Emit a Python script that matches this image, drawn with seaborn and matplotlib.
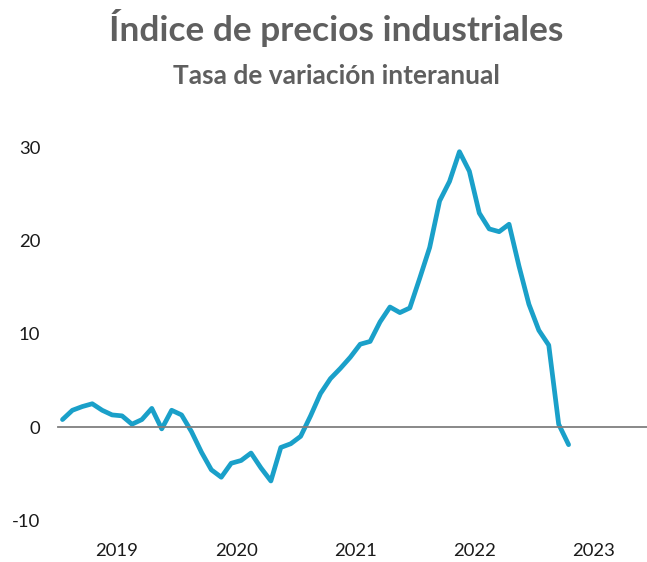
import matplotlib
matplotlib.use('Agg')
import matplotlib.pyplot as plt
import numpy as np
import pandas as pd
import seaborn as sns

# Monthly year-on-year change of industrial prices, Jan 2019 - Apr 2023
years = ['2019', '2020', '2021', '2022', '2023']
values = [
    0.8, 1.8, 2.2, 2.5, 1.8, 1.3, 1.2, 0.3, 0.8, 2.0, -0.2, 1.8,        # 2019
    1.3, -0.5, -2.7, -4.6, -5.4, -3.9, -3.6, -2.8, -4.4, -5.8, -2.2, -1.8,  # 2020
    -1.0, 1.2, 3.6, 5.2, 6.3, 7.5, 8.9, 9.2, 11.3, 12.9, 12.3, 12.8,   # 2021
    16.0, 19.3, 24.3, 26.4, 29.6, 27.5, 23.0, 21.3, 21.0, 21.8, 17.3, 13.2,  # 2022
    10.4, 8.8, 0.3, -1.9,                                               # 2023
]
yticks = [-10, 0, 10, 20, 30]

df = pd.DataFrame({'mes': np.arange(len(values)), 'tasa': values})

sns.set_style('white')
plt.rcParams['font.family'] = ['Lato', 'DejaVu Sans']

fig = plt.figure(figsize=(6.47, 5.62), dpi=100)
ax = fig.add_axes([0.0889, 0.0747, 0.9111, 0.662])

sns.lineplot(data=df, x='mes', y='tasa', ax=ax, color='#1aa0c9', linewidth=3.4,
             solid_capstyle='round', solid_joinstyle='round', clip_on=False)

ax.set_xlim(-0.5, 58.9)
ax.set_ylim(-10, 30)
ax.set_yticks(yticks)
ax.set_yticklabels([str(t) for t in yticks], fontsize=13.3, color='#1a1a1a')
ax.tick_params(axis='y', length=0, pad=12.5)

# zero line with year separators
for s in ['top', 'right', 'left']:
    ax.spines[s].set_visible(False)
ax.spines['bottom'].set_position(('data', 0))
ax.spines['bottom'].set_color('#7f7f7f')
ax.spines['bottom'].set_linewidth(1.3)
ax.set_xticks(np.arange(len(years)) * 12 - 0.5)
ax.set_xticklabels([])
ax.tick_params(axis='x', direction='out', length=6, width=1.3, color='#7f7f7f')

for k, yr in enumerate(years):
    ax.text(k * 12 + 5.5, -0.083, yr, transform=ax.get_xaxis_transform(),
            ha='center', va='center', fontsize=13.3, color='#1a1a1a')

ax.set_xlabel('')
ax.set_ylabel('')

fig.text(0.520, 0.950, 'Índice de precios industriales', ha='center', va='center',
         fontsize=25.4, fontweight='bold', color='#5f5f5f')
fig.text(0.520, 0.864, 'Tasa de variación interanual', ha='center', va='center',
         fontsize=19, fontweight='bold', color='#5f5f5f')

fig.savefig('out.png', dpi=100)
